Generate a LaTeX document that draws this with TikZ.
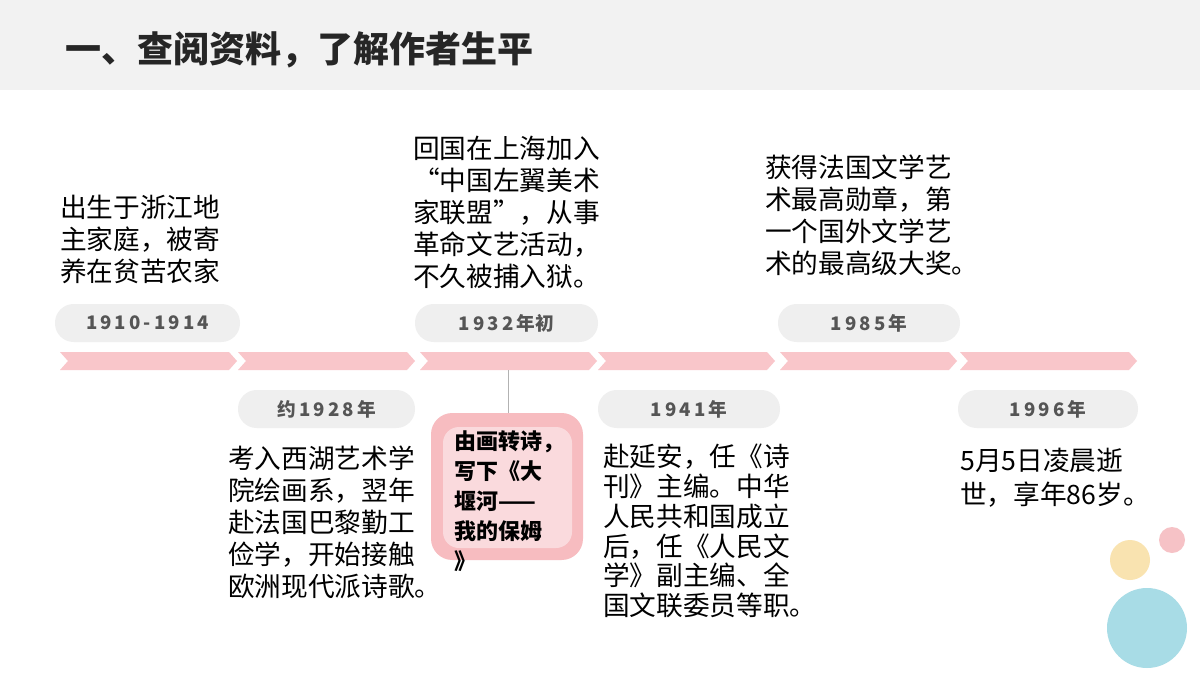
\documentclass[tikz,border=0pt]{standalone}
\usepackage{fontspec}
\setmainfont{Noto Sans CJK SC}
\definecolor{hdr}{HTML}{F2F2F2}
\definecolor{pill}{HTML}{EFEFEF}
\definecolor{chev}{HTML}{F9C6CA}
\definecolor{boxo}{HTML}{F7BCC0}
\definecolor{boxi}{HTML}{FADADD}
\definecolor{ptext}{HTML}{555555}
\definecolor{cy}{HTML}{F9E3B0}
\definecolor{cp}{HTML}{F6C2C6}
\definecolor{cb}{HTML}{A8DCE6}
\begin{document}
\begin{tikzpicture}[x=0.75pt,y=-0.75pt,
  body/.style={anchor=north west,align=left,inner sep=0pt,font=\fontsize{20}{24}\selectfont},
  pilltext/.style={font=\bfseries\fontsize{14}{16}\selectfont,text=ptext},
  pillbox/.style={fill=pill,rounded corners=14pt}]
\useasboundingbox (0,0) rectangle (1200,675);
\fill[white] (0,0) rectangle (1200,675);
\fill[hdr] (0,0) rectangle (1200,90);
\node[anchor=west,inner sep=0pt,font=\bfseries\fontsize{27}{30}\selectfont,text=black!85] (title) at (65,50) {一、查阅资料，了解作者生平};
% chevrons
\foreach \a/\b in {60/237,238/415,420/597,598/775,780/957,960/1137}{
  \fill[chev] (\a,352) -- (\b-8,352) -- (\b,361) -- (\b-8,370) -- (\a,370) -- (\a+8,361) -- cycle;}
% pills
\foreach \n/\a/\b/\y/\t in {p1/55/240/323/1\,9\,1\,0\,-\,1\,9\,1\,4,p2/238/415/409/约\,1\,9\,2\,8\,年,p3/415/598/323/1\,9\,3\,2\,年初,p4/598/780/409/1\,9\,4\,1\,年,p5/778/960/323/1\,9\,8\,5\,年,p6/958/1138/409/1\,9\,9\,6\,年}{
  \fill[pillbox] (\a,\y-19) rectangle (\b,\y+19);
  \node[pilltext] (\n) at ({(\a+\b)/2},\y) {\t};}
% connector
\coordinate (c1) at (508,370);
\coordinate (c2) at (508,413);
\draw[gray!60,line width=0.6pt] (c1) -- (c2);
% central box
\fill[boxo,rounded corners=16pt] (431,413) rectangle (583,560);
\fill[boxi,rounded corners=12pt] (443,427) rectangle (572,548);
\node[anchor=north west,align=left,inner sep=0pt,font=\bfseries\fontsize{16.5}{22.5}\selectfont] (cb) at (454,430) {由画转诗，\\写下《大\\堰河——\\我的保姆\\》};
% texts
\node[body] (t1) at (60,195) {出生于浙江地\\主家庭，被寄\\养在贫苦农家};
\node[body] (t2) at (228,446) {考入西湖艺术学\\院绘画系，翌年\\赴法国巴黎勤工\\俭学，开始接触\\欧洲现代派诗歌。};
\node[body] (t3) at (413,136) {回国在上海加入\\“中国左翼美术\\家联盟”，从事\\革命文艺活动，\\不久被捕入狱。};
\node[body,font=\fontsize{20}{22.3}\selectfont] (t4) at (603,444) {赴延安，任《诗\\刊》主编。中华\\人民共和国成立\\后，任《人民文\\学》副主编、全\\国文联委员等职。};
\node[body] (t5) at (765,155) {获得法国文学艺\\术最高勋章，第\\一个国外文学艺\\术的最高级大奖。};
\node[body,font=\fontsize{20}{25.5}\selectfont] (t6) at (960,448) {5月5日凌晨逝\\世，享年86岁。};
% circles
\fill[cy] (1130,560) circle (20);
\fill[cp] (1172,540) circle (13);
\fill[cb] (1147,628) circle (40);
\end{tikzpicture}
\end{document}
